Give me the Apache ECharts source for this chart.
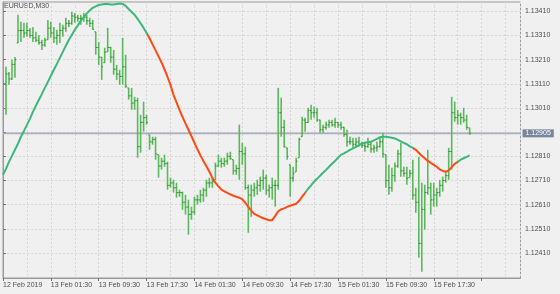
<!DOCTYPE html>
<html>
<head>
<meta charset="utf-8">
<script src="https://cdn.jsdelivr.net/npm/echarts@6/dist/echarts.min.js"></script>
<style>html,body{margin:0;padding:0;background:#f0f0f0;}#c{width:560px;height:294px;}</style>
</head>
<body>
<div id="c"></div>
<script>
// ---- data (EURUSD M30, 12 Feb 2019 17:30 .. 15 Feb 2019 23:30) ----
const symbolTitle = 'EURUSD,M30';
const lastPrice = 1.12905;
const xTickIndex = [0, 16, 32, 48, 64, 80, 96, 112, 128, 144];
const xTickLabels = ['12 Feb 2019', '13 Feb 01:30', '13 Feb 09:30', '13 Feb 17:30', '14 Feb 01:30',
  '14 Feb 09:30', '14 Feb 17:30', '15 Feb 01:30', '15 Feb 09:30', '15 Feb 17:30'];
const yTickValues = [1.12410, 1.12510, 1.12610, 1.12710, 1.12810, 1.12910, 1.13010, 1.13110, 1.13210, 1.13310, 1.13410];
const yTickLabels = ['1.12410', '1.12510', '1.12610', '1.12710', '1.12810', '', '1.13010', '1.13110', '1.13210', '1.13310', '1.13410'];

const opens = [1.13040,1.13110,1.13150,1.13130,1.13190,1.13279,1.13330,1.13330,1.13320,1.13330,
1.13310,1.13300,1.13290,1.13280,1.13270,1.13292,1.13340,1.13320,1.13300,1.13310,
1.13330,1.13340,1.13360,1.13360,1.13390,1.13385,1.13380,1.13380,1.13385,1.13370,
1.13360,1.13325,1.13260,1.13220,1.13197,1.13242,1.13260,1.13220,1.13170,1.13150,
1.13140,1.13180,1.13093,1.13060,1.13030,1.13040,1.12850,1.12950,1.12970,1.12899,
1.12870,1.12880,1.12817,1.12770,1.12790,1.12780,1.12690,1.12700,1.12680,1.12660,
1.12660,1.12620,1.12600,1.12570,1.12580,1.12630,1.12630,1.12650,1.12670,1.12700,
1.12700,1.12713,1.12770,1.12790,1.12780,1.12790,1.12810,1.12796,1.12750,1.12760,
1.12830,1.12820,1.12680,1.12650,1.12670,1.12680,1.12690,1.12710,1.12720,1.12670,
1.12680,1.12690,1.12690,1.12990,1.12930,1.12845,1.12775,1.12720,1.12746,1.12804,
1.12891,1.12960,1.12950,1.13000,1.12990,1.12990,1.12960,1.12920,1.12930,1.12940,
1.12950,1.12940,1.12950,1.12940,1.12930,1.12900,1.12870,1.12870,1.12860,1.12870,
1.12860,1.12855,1.12850,1.12860,1.12840,1.12845,1.12850,1.12870,1.12817,1.12710,
1.12680,1.12730,1.12770,1.12820,1.12750,1.12740,1.12722,1.12740,1.12650,1.12620,
1.12450,1.12590,1.12660,1.12680,1.12630,1.12650,1.12660,1.12690,1.12710,1.12730,
1.12830,1.12990,1.12970,1.12980,1.12970,1.12960,1.12928];
const highs = [1.13126,1.13180,1.13159,1.13209,1.13221,1.13395,1.13366,1.13362,1.13362,1.13341,
1.13345,1.13325,1.13312,1.13292,1.13300,1.13374,1.13366,1.13345,1.13333,1.13362,
1.13354,1.13383,1.13374,1.13407,1.13403,1.13395,1.13395,1.13403,1.13395,1.13383,
1.13374,1.13325,1.13283,1.13221,1.13259,1.13341,1.13263,1.13250,1.13188,1.13168,
1.13300,1.13230,1.13093,1.13093,1.13056,1.13052,1.12982,1.13036,1.12982,1.12899,
1.12891,1.12891,1.12817,1.12804,1.12817,1.12788,1.12722,1.12713,1.12701,1.12672,
1.12664,1.12651,1.12631,1.12602,1.12643,1.12651,1.12672,1.12680,1.12713,1.12722,
1.12722,1.12784,1.12817,1.12804,1.12804,1.12825,1.12829,1.12796,1.12775,1.12941,
1.12866,1.12850,1.12693,1.12693,1.12701,1.12713,1.12726,1.12755,1.12734,1.12693,
1.12722,1.12713,1.13093,1.13052,1.12961,1.12845,1.12775,1.12767,1.12804,1.12887,
1.12974,1.12969,1.13011,1.13023,1.13015,1.13011,1.12961,1.12941,1.12953,1.12961,
1.12961,1.12969,1.12953,1.12953,1.12932,1.12920,1.12891,1.12887,1.12887,1.12891,
1.12870,1.12870,1.12887,1.12870,1.12858,1.12870,1.12887,1.12907,1.12817,1.12775,
1.12763,1.12784,1.12837,1.12866,1.12767,1.12767,1.12755,1.12796,1.12680,1.12808,
1.12701,1.12693,1.12837,1.12701,1.12701,1.12680,1.12713,1.12726,1.12746,1.12845,
1.13056,1.13036,1.13002,1.12990,1.13011,1.12982,1.12928];
const lows = [1.12994,1.12982,1.13106,1.13126,1.13135,1.13279,1.13283,1.13300,1.13304,1.13300,
1.13283,1.13283,1.13271,1.13250,1.13263,1.13292,1.13300,1.13279,1.13271,1.13279,
1.13304,1.13325,1.13345,1.13354,1.13362,1.13366,1.13354,1.13366,1.13354,1.13345,
1.13333,1.13230,1.13188,1.13126,1.13197,1.13242,1.13197,1.13147,1.13126,1.13106,
1.13106,1.13093,1.13044,1.13002,1.13002,1.12804,1.12825,1.12912,1.12941,1.12837,
1.12858,1.12796,1.12722,1.12755,1.12767,1.12672,1.12680,1.12660,1.12639,1.12643,
1.12589,1.12569,1.12486,1.12548,1.12569,1.12610,1.12618,1.12622,1.12643,1.12680,
1.12680,1.12713,1.12767,1.12763,1.12767,1.12775,1.12796,1.12734,1.12734,1.12713,
1.12775,1.12672,1.12494,1.12560,1.12643,1.12651,1.12664,1.12672,1.12651,1.12639,
1.12631,1.12602,1.12672,1.12891,1.12845,1.12796,1.12643,1.12705,1.12746,1.12804,
1.12891,1.12912,1.12949,1.12961,1.12969,1.12953,1.12907,1.12907,1.12920,1.12928,
1.12932,1.12928,1.12928,1.12920,1.12891,1.12850,1.12858,1.12845,1.12845,1.12850,
1.12845,1.12829,1.12845,1.12825,1.12825,1.12829,1.12845,1.12804,1.12680,1.12651,
1.12664,1.12705,1.12763,1.12726,1.12726,1.12693,1.12722,1.12631,1.12577,1.12391,
1.12333,1.12507,1.12651,1.12569,1.12602,1.12602,1.12643,1.12664,1.12701,1.12713,
1.12755,1.12953,1.12941,1.12941,1.12949,1.12920,1.12899];
const closes = [1.13110,1.13150,1.13130,1.13190,1.13210,1.13330,1.13330,1.13320,1.13330,1.13310,
1.13300,1.13290,1.13280,1.13270,1.13290,1.13340,1.13320,1.13300,1.13310,1.13330,
1.13340,1.13360,1.13360,1.13390,1.13385,1.13380,1.13380,1.13385,1.13370,1.13360,
1.13335,1.13260,1.13220,1.13180,1.13240,1.13260,1.13220,1.13170,1.13150,1.13140,
1.13180,1.13100,1.13060,1.13030,1.13040,1.12850,1.12950,1.12970,1.12950,1.12870,
1.12880,1.12820,1.12770,1.12790,1.12780,1.12690,1.12700,1.12680,1.12660,1.12660,
1.12620,1.12600,1.12570,1.12580,1.12630,1.12630,1.12650,1.12670,1.12700,1.12700,
1.12705,1.12770,1.12790,1.12780,1.12790,1.12810,1.12800,1.12750,1.12760,1.12830,
1.12820,1.12680,1.12650,1.12670,1.12680,1.12690,1.12710,1.12720,1.12670,1.12680,
1.12690,1.12690,1.12990,1.12930,1.12850,1.12810,1.12720,1.12740,1.12790,1.12880,
1.12960,1.12950,1.13000,1.12990,1.12990,1.12960,1.12920,1.12930,1.12940,1.12950,
1.12940,1.12950,1.12940,1.12930,1.12900,1.12870,1.12870,1.12860,1.12870,1.12860,
1.12855,1.12850,1.12860,1.12840,1.12845,1.12850,1.12870,1.12820,1.12710,1.12680,
1.12730,1.12770,1.12820,1.12750,1.12740,1.12720,1.12740,1.12650,1.12620,1.12450,
1.12590,1.12660,1.12680,1.12630,1.12650,1.12660,1.12690,1.12710,1.12730,1.12830,
1.12990,1.12970,1.12980,1.12970,1.12960,1.12930,1.12905];
const maValues = [1.12734,1.12758,1.12787,1.12812,1.12837,1.12862,1.12891,1.12915,1.12940,1.12965,
1.12994,1.13019,1.13044,1.13068,1.13093,1.13118,1.13143,1.13168,1.13192,1.13217,
1.13242,1.13267,1.13291,1.13312,1.13333,1.13351,1.13370,1.13386,1.13401,1.13413,
1.13424,1.13430,1.13436,1.13438,1.13440,1.13440,1.13438,1.13438,1.13440,1.13442,
1.13440,1.13432,1.13419,1.13407,1.13395,1.13378,1.13360,1.13341,1.13320,1.13298,
1.13273,1.13248,1.13223,1.13198,1.13169,1.13138,1.13105,1.13064,1.13033,1.13002,
1.12973,1.12946,1.12920,1.12893,1.12866,1.12839,1.12814,1.12791,1.12769,1.12746,
1.12721,1.12701,1.12686,1.12672,1.12665,1.12659,1.12653,1.12647,1.12643,1.12639,
1.12632,1.12618,1.12601,1.12585,1.12572,1.12566,1.12560,1.12554,1.12550,1.12546,
1.12546,1.12564,1.12583,1.12591,1.12595,1.12601,1.12606,1.12610,1.12614,1.12626,
1.12643,1.12659,1.12676,1.12690,1.12705,1.12717,1.12730,1.12742,1.12754,1.12767,
1.12779,1.12791,1.12804,1.12816,1.12822,1.12829,1.12837,1.12843,1.12849,1.12856,
1.12862,1.12866,1.12868,1.12870,1.12876,1.12882,1.12889,1.12891,1.12891,1.12889,
1.12887,1.12884,1.12878,1.12872,1.12866,1.12860,1.12851,1.12845,1.12837,1.12825,
1.12812,1.12802,1.12791,1.12783,1.12775,1.12767,1.12756,1.12750,1.12746,1.12752,
1.12765,1.12779,1.12787,1.12796,1.12802,1.12808,1.12814];
// bar index where the MA colour flips (starts rising colour first)
const maTurnIndex = [48, 101, 137, 152];

// ---- styles ----
const BG = '#f0f0f0', TXT = '#4d4d4d', GRIDC = '#d6d6d6', FRAME = '#9a9a9a';
const BAR = '#5cb85c', BARTICK = '#2e8b2e', UP = '#3cb878', DOWN = '#ff4a14';
const FONT = 'Liberation Sans, Arial, sans-serif';
const X_MAX = 173;

const bars = highs.map((h, i) => [i, opens[i], h, lows[i], closes[i]]);
const maData = maValues.map((v, i) => [i, v]);
const priceLine = [[0, lastPrice], [X_MAX, lastPrice]];
const pieces = [];
let prev = -Infinity;
[...maTurnIndex, Infinity].forEach((t, k) => {
  const p = { color: k % 2 === 0 ? UP : DOWN };
  if (prev !== -Infinity) p.gte = prev;
  if (t !== Infinity) p.lt = t;
  pieces.push(p);
  prev = t;
});

const chart = echarts.init(document.getElementById('c'), null, { renderer: 'canvas' });
chart.setOption({
  animation: false,
  backgroundColor: BG,
  textStyle: { fontFamily: FONT },
  grid: { left: 1.5, right: 39.5, top: 2, bottom: 16, show: true, borderColor: FRAME, borderWidth: 1, backgroundColor: BG },
  graphic: [{ type: 'text', left: 4, top: 3, style: { text: symbolTitle, fill: TXT, font: '7px ' + FONT } }],
  xAxis: [
    { type: 'value', min: 0, max: X_MAX, interval: 8, position: 'bottom',
      axisLine: { show: false }, axisTick: { show: false }, axisLabel: { show: false },
      splitLine: { show: true, lineStyle: { color: GRIDC, type: [2, 2], width: 1 } } },
    { type: 'value', min: 0, max: X_MAX, interval: 16, position: 'bottom',
      axisLine: { show: true, lineStyle: { color: FRAME } },
      axisTick: { show: true, length: 3, lineStyle: { color: '#707070' } },
      axisLabel: { show: true, color: TXT, fontSize: 7, fontFamily: FONT, align: 'left', margin: 4,
        showMaxLabel: false,
        formatter: v => { const k = xTickIndex.indexOf(v); return k >= 0 ? xTickLabels[k] : ''; } },
      splitLine: { show: false } }
  ],
  yAxis: {
    type: 'value', position: 'right', min: 1.12307, max: 1.13448,
    axisLine: { show: true, lineStyle: { color: FRAME } },
    axisTick: { show: true, length: 3, customValues: yTickValues, lineStyle: { color: '#707070' } },
    axisLabel: { show: true, customValues: yTickValues, color: TXT, fontSize: 7, fontFamily: FONT, margin: 4.5,
      formatter: v => { const k = yTickValues.findIndex(t => Math.abs(t - v) < 1e-7); return k >= 0 ? yTickLabels[k] : ''; } },
    splitLine: { show: true, lineStyle: { color: GRIDC, type: [2, 2], width: 1 } }
  },
  visualMap: { show: false, type: 'piecewise', seriesIndex: 2, dimension: 0, pieces: pieces },
  series: [
    { type: 'line', xAxisIndex: 0, data: priceLine, showSymbol: false, symbol: 'none', silent: true, z: 1,
      lineStyle: { color: '#a7afbc', width: 1.6 },
      endLabel: { show: true, formatter: lastPrice.toFixed(5), color: '#ffffff',
        backgroundColor: '#78889a', fontSize: 7, fontFamily: FONT, padding: [1, 3, 0, 3], distance: 2 } },
    { type: 'custom', xAxisIndex: 0, clip: true, z: 2,
      encode: { x: 0, y: [1, 2, 3, 4] },
      data: bars,
      renderItem: (params, api) => {
        const i = api.value(0);
        const hi = api.coord([i, api.value(2)]);
        const lo = api.coord([i, api.value(3)]);
        const op = api.coord([i, api.value(1)]);
        const cl = api.coord([i, api.value(4)]);
        const x = hi[0];
        return { type: 'group', children: [
          { type: 'line', shape: { x1: x, y1: hi[1], x2: x, y2: lo[1] }, style: { stroke: BAR, lineWidth: 1.6 } },
          { type: 'line', shape: { x1: x - 1.3, y1: op[1], x2: x, y2: op[1] }, style: { stroke: BARTICK, lineWidth: 1 } },
          { type: 'line', shape: { x1: x, y1: cl[1], x2: x + 1.3, y2: cl[1] }, style: { stroke: BARTICK, lineWidth: 1 } }
        ] };
      }
    },
    { type: 'line', xAxisIndex: 0, data: maData, showSymbol: false, symbol: 'none',
      lineStyle: { width: 2 }, z: 3 }
  ]
});
</script>
</body>
</html>
